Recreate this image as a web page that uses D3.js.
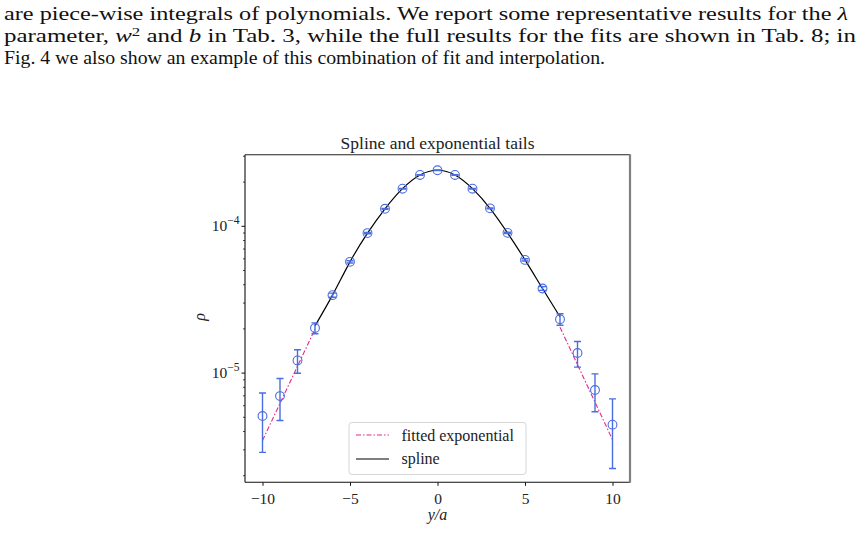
<!DOCTYPE html>
<html><head><meta charset="utf-8">
<script src="https://cdn.jsdelivr.net/npm/d3@7"></script>
<style>body{margin:0;background:#fff;} svg{display:block;}</style>
</head><body>
<svg id="c" width="862" height="552"></svg>
<script>
// ---- data ----
const yPos = [-10,-9,-8,-7,-6,-5,-4,-3,-2,-1,0,1,2,3,4,5,6,7,8,9,10];
const rho  = [5.06e-6,6.92e-6,1.21e-5,2.01e-5,3.37e-5,5.68e-5,8.92e-5,1.306e-4,1.79e-4,2.22e-4,2.39e-4,
              2.22e-4,1.79e-4,1.315e-4,8.95e-5,5.86e-5,3.74e-5,2.31e-5,1.36e-5,7.61e-6,4.42e-6];
const rhoErr = [2.2e-6,2.2e-6,2.2e-6,1.7e-6,1.1e-6,1.0e-6,0.9e-6,0.9e-6,0.9e-6,0.9e-6,0.9e-6,
                0.9e-6,0.9e-6,0.9e-6,0.9e-6,1.0e-6,1.1e-6,2.1e-6,2.7e-6,2.2e-6,2.2e-6];
const splineX = [-7,-6,-5,-4,-3,-2,-1,0,1,2,3,4,5,6,7];
const splineY = [2.08e-5,3.37e-5,5.68e-5,8.92e-5,1.306e-4,1.79e-4,2.22e-4,2.39e-4,2.22e-4,1.79e-4,1.315e-4,8.95e-5,5.86e-5,3.74e-5,2.4e-5];
const expLeftX = [-10,-7], expLeftY = [3.45e-6,1.98e-5];
const expRightX = [7,10], expRightY = [2.04e-5,3.49e-6];
const xTicks = [-10,-5,0,5,10];
const yMajor = [1e-5,1e-4];
const yMinor = [2e-6,3e-6,4e-6,5e-6,6e-6,7e-6,8e-6,9e-6,2e-5,3e-5,4e-5,5e-5,6e-5,7e-5,8e-5,9e-5,2e-4,3e-4];
const xDomain = [-11,11], yDomain = [1.79e-6,3.05e-4];

const svg = d3.select('#c');
const L=245,R=630,T=154.7,B=482.3;
const x = d3.scaleLinear().domain(xDomain).range([L,R]);
const y = d3.scaleLog().domain(yDomain).range([B,T]);
const serif = "'Liberation Serif','DejaVu Serif',serif";

// paragraph text
const para = svg.append('g').attr('font-family',serif).attr('font-size',18.5).attr('fill','#111');
function line(yy, x1, x2, parts){
  const t = para.append('text').attr('x',x1).attr('y',yy).attr('textLength',x2-x1).attr('lengthAdjust','spacingAndGlyphs');
  parts.forEach(p=>{
    const s=t.append('tspan').text(p.t);
    if(p.i) s.attr('font-style','italic');
    if(p.sup) s.attr('font-size',12.5).attr('dy',-6.5);
    if(p.down) s.attr('dy',6.5);
  });
}
line(20,4,848,[{t:'are piece-wise integrals of polynomials.  We report some representative results for the '},{t:'λ',i:1}]);
line(42,4,856,[{t:'parameter, '},{t:'w',i:1},{t:'2',sup:1},{t:' and ',down:1},{t:'b',i:1},{t:' in Tab. 3, while the full results for the fits are shown in Tab. 8; in'}]);
line(64,4,605,[{t:'Fig. 4 we also show an example of this combination of fit and interpolation.'}]);

// clip
svg.append('clipPath').attr('id','clip').append('rect').attr('x',L).attr('y',T).attr('width',R-L).attr('height',B-T);
const plot = svg.append('g').attr('clip-path','url(#clip)');

// exponential tails
const lineGen = d3.line().x(d=>x(d[0])).y(d=>y(d[1]));
[[expLeftX,expLeftY],[expRightX,expRightY]].forEach(([xs,ys])=>{
  plot.append('path').datum(xs.map((v,i)=>[v,ys[i]])).attr('d',lineGen)
    .attr('fill','none').attr('stroke','#e8288f').attr('stroke-width',1.1).attr('stroke-dasharray','5,2,1.5,2');
});
// spline
plot.append('path').datum(splineX.map((v,i)=>[v,splineY[i]])).attr('d',lineGen.curve(d3.curveNatural))
  .attr('fill','none').attr('stroke','#000').attr('stroke-width',1.2);

// error bars + markers
const blue = '#4a6ddf';
const pts = yPos.map((v,i)=>({x:v,y:rho[i],e:rhoErr[i]}));
const eg = plot.append('g').attr('stroke',blue).attr('stroke-width',1.4);
pts.forEach(p=>{
  const y1=y(p.y+p.e), y2=y(p.y-p.e), cx=x(p.x);
  eg.append('line').attr('x1',cx).attr('x2',cx).attr('y1',y1).attr('y2',y2);
  eg.append('line').attr('x1',cx-3.5).attr('x2',cx+3.5).attr('y1',y1).attr('y2',y1);
  eg.append('line').attr('x1',cx-3.5).attr('x2',cx+3.5).attr('y1',y2).attr('y2',y2);
});
plot.append('g').selectAll('circle').data(pts).join('circle')
  .attr('cx',d=>x(d.x)).attr('cy',d=>y(d.y)).attr('r',4.4)
  .attr('fill','none').attr('stroke',blue).attr('stroke-width',1.1);

// axes frame
svg.append('line').attr('x1',L).attr('x2',R).attr('y1',T).attr('y2',T).attr('stroke','#222').attr('stroke-width',1.1);
svg.append('line').attr('x1',L).attr('x2',L).attr('y1',T).attr('y2',B).attr('stroke','#111').attr('stroke-width',1.1);
svg.append('line').attr('x1',L).attr('x2',R).attr('y1',B).attr('y2',B).attr('stroke','#111').attr('stroke-width',1.1);
svg.append('line').attr('x1',R).attr('x2',R).attr('y1',T-0.5).attr('y2',B+0.5).attr('stroke','#808080').attr('stroke-width',2.2);

// x axis
const xa = svg.append('g').attr('transform',`translate(0,${B})`)
  .call(d3.axisBottom(x).tickValues(xTicks).tickSize(3.5).tickFormat(d=>d<0?'−'+Math.abs(d):d));
xa.select('.domain').remove();
xa.selectAll('text').attr('font-family',serif).attr('font-size',15.5).attr('fill','#222').attr('dy','0.95em');
xa.selectAll('line').attr('stroke','#111');

// y axis
const ya = svg.append('g').attr('transform',`translate(${L},0)`)
  .call(d3.axisLeft(y).tickValues(yMajor).tickSize(3.5).tickFormat(''));
ya.select('.domain').remove();
ya.selectAll('line').attr('stroke','#111');
const ym = svg.append('g').attr('transform',`translate(${L},0)`)
  .call(d3.axisLeft(y).tickValues(yMinor).tickSize(2).tickFormat(''));
ym.select('.domain').remove();
ym.selectAll('line').attr('stroke','#111').attr('stroke-width',0.8);
yMajor.forEach(v=>{
  const e = Math.round(Math.log10(v));
  const t = svg.append('text').attr('x',L-5.5).attr('y',y(v)+5).attr('text-anchor','end')
    .attr('font-family',serif).attr('font-size',15.5).attr('fill','#222');
  t.append('tspan').text('10');
  t.append('tspan').text('−'+Math.abs(e)).attr('font-size',11.5).attr('dy',-6.5);
});

// labels
svg.append('text').attr('x',(L+R)/2).attr('y',148.5).attr('text-anchor','middle')
  .attr('font-family',serif).attr('font-size',17.5).attr('fill','#222').text('Spline and exponential tails');
svg.append('text').attr('x',(L+R)/2).attr('y',520).attr('text-anchor','middle')
  .attr('font-family',serif).attr('font-size',16).attr('font-style','italic').attr('fill','#222').text('y/a');
svg.append('text').attr('transform','translate(205,317) rotate(-90)').attr('text-anchor','middle')
  .attr('font-family',serif).attr('font-size',16).attr('font-style','italic').attr('fill','#222').text('ρ');

// legend
const lg = svg.append('g');
lg.append('rect').attr('x',349).attr('y',422.5).attr('width',177).attr('height',52).attr('rx',3)
  .attr('fill','#fff').attr('fill-opacity',0.8).attr('stroke','#d6d6d6').attr('stroke-width',1);
lg.append('line').attr('x1',356).attr('x2',389).attr('y1',435).attr('y2',435)
  .attr('stroke','#e8288f').attr('stroke-width',1.1).attr('stroke-dasharray','5,2,1.5,2');
lg.append('line').attr('x1',356).attr('x2',389).attr('y1',459).attr('y2',459)
  .attr('stroke','#000').attr('stroke-width',1.2);
lg.append('text').attr('x',401.5).attr('y',440.5).attr('font-family',serif).attr('font-size',16).attr('fill','#222').text('fitted exponential');
lg.append('text').attr('x',401.5).attr('y',464).attr('font-family',serif).attr('font-size',16).attr('fill','#222').text('spline');
</script>
</body></html>
